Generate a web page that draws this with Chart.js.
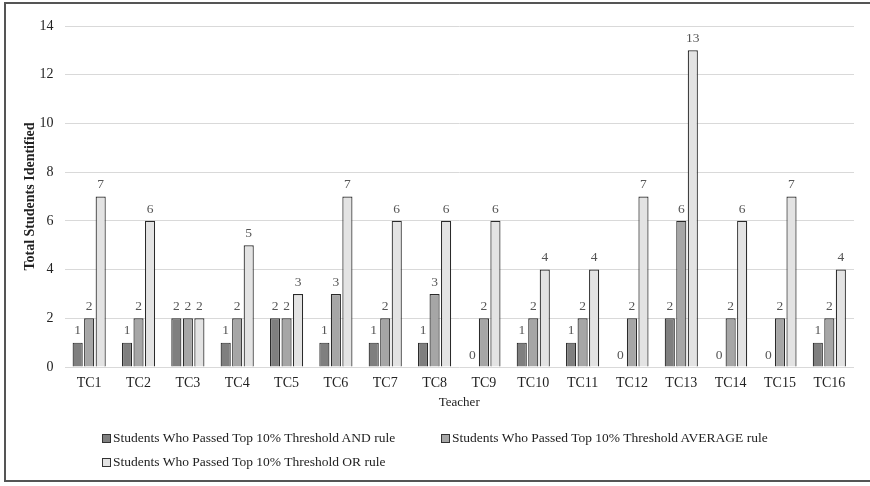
<!DOCTYPE html>
<html>
<head>
<meta charset="utf-8">
<script src="https://cdn.jsdelivr.net/npm/chart.js@4.4.1/dist/chart.umd.min.js"></script>
<style>
  html, body { margin: 0; padding: 0; background: #fff; }
  #wrap { position: relative; width: 870px; height: 486px; overflow: hidden; }
  #frame { position: absolute; left: 4px; top: 2px; width: 900px; height: 480px; border: 2px solid #555; box-sizing: border-box; }
  canvas { position: absolute; left: 0; top: 0; }
  .leg { position: absolute; font: 13.5px "Liberation Serif", "Times New Roman", serif; color: #222; white-space: nowrap; display: flex; align-items: center; }
  .leg i { display: inline-block; width: 7px; height: 7px; border: 1px solid #333; margin-right: 2px; }
</style>
</head>
<body>
<div id="wrap">
  <div id="frame"></div>
  <canvas id="c" width="870" height="486"></canvas>
  <div id="legend"></div>
</div>
<script>
// Teachers and the number of students each identification rule selected
const teachers = ['TC1','TC2','TC3','TC4','TC5','TC6','TC7','TC8','TC9','TC10','TC11','TC12','TC13','TC14','TC15','TC16'];
const andRule     = [1, 1, 2, 1, 2, 1, 1, 1, 0, 1, 1, 0, 2, 0, 0, 1];
const averageRule = [2, 2, 2, 2, 2, 3, 2, 3, 2, 2, 2, 2, 6, 2, 2, 2];
const orRule      = [7, 6, 2, 5, 3, 7, 6, 6, 6, 4, 4, 7, 13, 6, 7, 4];
const seriesNames = [
  'Students Who Passed Top 10% Threshold AND rule',
  'Students Who Passed Top 10% Threshold AVERAGE rule',
  'Students Who Passed Top 10% Threshold OR rule'
];
const yTicks = [0, 2, 4, 6, 8, 10, 12, 14];

const serif = '"Liberation Serif", "Times New Roman", serif';
const fills = ['#7f7f7f', '#a6a6a6', '#e3e3e3'];

// Writes each bar's value just above it
const valueLabels = {
  id: 'valueLabels',
  afterDatasetsDraw(chart) {
    const ctx = chart.ctx;
    ctx.save();
    ctx.font = '13.5px ' + serif;
    ctx.fillStyle = '#555';
    ctx.textAlign = 'center';
    ctx.textBaseline = 'bottom';
    chart.data.datasets.forEach((ds, i) => {
      const meta = chart.getDatasetMeta(i);
      meta.data.forEach((bar, j) => {
        ctx.fillText(String(ds.data[j]), bar.x, bar.y - 5);
      });
    });
    ctx.restore();
  }
};

const datasets = [andRule, averageRule, orRule].map((vals, i) => ({
  label: seriesNames[i],
  data: vals,
  backgroundColor: fills[i],
  borderColor: '#2a2a2a',
  borderWidth: 1.2,
  categoryPercentage: 0.7,
  barPercentage: 0.88
}));

new Chart(document.getElementById('c'), {
  type: 'bar',
  data: { labels: teachers, datasets },
  options: {
    responsive: false,
    animation: false,
    layout: { padding: { left: 18, right: 16, top: 26, bottom: 72 } },
    plugins: { legend: { display: false }, tooltip: { enabled: false } },
    scales: {
      x: {
        grid: { display: false, drawTicks: false },
        border: { display: false },
        ticks: { font: { family: serif, size: 14 }, color: '#222', padding: 8 },
        title: { display: true, text: 'Teacher', font: { family: serif, size: 13 }, color: '#222' },
        afterFit(s) { s.height = 47; }
      },
      y: {
        min: 0, max: 14,
        afterBuildTicks(s) { s.ticks = yTicks.map(v => ({ value: v })); },
        grid: { color: '#d9d9d9', lineWidth: 1, drawTicks: false },
        border: { display: false },
        ticks: { font: { family: serif, size: 14 }, color: '#222', padding: 11 },
        title: { display: true, text: 'Total Students Identified', font: { family: serif, size: 14, weight: 'bold' }, color: '#222', padding: { top: 4, bottom: 4 } },
        afterFit(s) { s.width = 46.5; }
      }
    }
  },
  plugins: [valueLabels]
});

// Legend laid out as a two-column grid beneath the axis
const legendPos = [[102, 430], [441, 430], [102, 454]];
const legendEl = document.getElementById('legend');
seriesNames.forEach((name, i) => {
  const d = document.createElement('div');
  d.className = 'leg';
  d.style.left = legendPos[i][0] + 'px';
  d.style.top = legendPos[i][1] + 'px';
  const sw = document.createElement('i');
  sw.style.background = fills[i];
  d.appendChild(sw);
  d.appendChild(document.createTextNode(name));
  legendEl.appendChild(d);
});
</script>
</body>
</html>
